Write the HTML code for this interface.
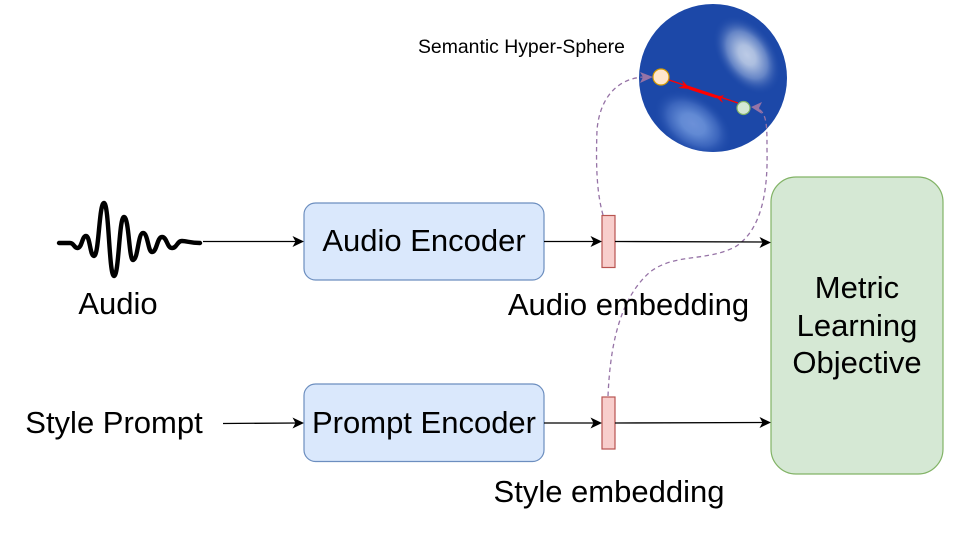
<!DOCTYPE html>
<html>
<head>
<meta charset="utf-8">
<style>
html,body{margin:0;padding:0;background:#fff;width:960px;height:537px;overflow:hidden}
svg{display:block}
text{font-family:"Liberation Sans",sans-serif;fill:#000}
</style>
</head>
<body>
<svg width="960" height="537" viewBox="0 0 960 537" xmlns="http://www.w3.org/2000/svg">
<defs>
<radialGradient id="h1" cx="0.5" cy="0.5" r="0.5">
<stop offset="0" stop-color="#bccbe6"/>
<stop offset="0.25" stop-color="#adbfe0"/>
<stop offset="0.6" stop-color="#6484c6"/>
<stop offset="1" stop-color="#1c48a8" stop-opacity="0"/>
</radialGradient>
<radialGradient id="h2" cx="0.5" cy="0.5" r="0.5">
<stop offset="0" stop-color="#6c90d8"/>
<stop offset="0.3" stop-color="#628ad4"/>
<stop offset="0.65" stop-color="#3a64bc"/>
<stop offset="1" stop-color="#1c48a8" stop-opacity="0"/>
</radialGradient>
<clipPath id="sph"><circle cx="713" cy="78" r="74"/></clipPath>
</defs>

<!-- sphere -->
<circle cx="713" cy="78" r="74" fill="#1c48a8"/>
<g clip-path="url(#sph)">
<ellipse cx="747" cy="55" rx="28" ry="44" transform="rotate(-35 747 55)" fill="url(#h1)"/>
<ellipse cx="693" cy="124" rx="44" ry="28" transform="rotate(35 693 124)" fill="url(#h2)"/>
</g>

<!-- red connector -->
<line x1="669" y1="80" x2="738" y2="103" stroke="#f00" stroke-width="1.300"/>
<line x1="689" y1="88" x2="717" y2="97" stroke="#f00" stroke-width="3"/>
<path d="M682 80 L690.500 89 L678 88 L684 85.500 Z" fill="#f00"/>
<path d="M716 97 L724 95 L721 98.500 L723 103 Z" fill="#f00"/>

<!-- nodes -->
<circle cx="661" cy="77" r="8" fill="#ffe6cc" stroke="#d79b00" stroke-width="1.200"/>
<circle cx="743.500" cy="108" r="6.500" fill="#d5e8d4" stroke="#82b366" stroke-width="1.200"/>

<!-- dashed curves -->
<path d="M603 215 C596 190 596 160 597 130 C600 95 620 78 644 77" fill="none" stroke="#9673a6" stroke-width="1.300" stroke-dasharray="4.500 3.500"/>
<path d="M653 77 L640 72 L643 77 L640 83 Z" fill="#9673a6"/>
<path d="M608 396 C610 350 618 300 650 272 C675 253 705 262 735 247 C762 230 768 190 767 150 C767 125 767 113 757 108" fill="none" stroke="#9673a6" stroke-width="1.300" stroke-dasharray="4.500 3.500"/>
<path d="M751 107 L762 102 L759 108 L762 114 Z" fill="#9673a6"/>

<!-- waveform -->
<path d="M59 243 H70 C74 243 74 248 77.500 248 C82 248 82 236 86 236 C90 236 90 256 94 256 C99 256 99 203 104 203 C109 203 109 276 114 276 C119 276 119 217 124 217 C129 217 129 260 133 260 C138 260 138 233 143 233 C148 233 148 252 152 252 C157 252 157 237 162 237 C167 237 167 248 172 248 C177 248 177 241 182 241 C187 241 190 243 200 243" fill="none" stroke="#000" stroke-width="4.400" stroke-linecap="round" stroke-linejoin="round"/>

<!-- boxes -->
<rect x="304" y="203" width="240" height="77" rx="11.500" fill="#dae8fc" stroke="#6c8ebf" stroke-width="1.200"/>
<rect x="304" y="384" width="240" height="77.500" rx="11.500" fill="#dae8fc" stroke="#6c8ebf" stroke-width="1.200"/>
<rect x="771" y="177" width="172" height="297" rx="25" fill="#d5e8d4" stroke="#82b366" stroke-width="1.200"/>
<rect x="602" y="215.500" width="13" height="52" fill="#f8cecc" stroke="#b85450" stroke-width="1.200"/>
<rect x="602" y="397" width="13" height="52" fill="#f8cecc" stroke="#b85450" stroke-width="1.200"/>

<!-- arrows -->
<g fill="none" stroke="#000" stroke-width="1.300">
<line x1="203" y1="241.500" x2="298" y2="241.500"/>
<line x1="223" y1="423.500" x2="298" y2="423"/>
<line x1="544" y1="241.500" x2="597" y2="241.500"/>
<line x1="544" y1="423" x2="597" y2="423"/>
<line x1="615" y1="241.500" x2="765" y2="242"/>
<line x1="615" y1="423" x2="765" y2="422.500"/>
</g>
<g fill="#000">
<path d="M304 241.500 L292.500 236 L295.500 241.500 L292.500 247 Z"/>
<path d="M304 423 L292.500 417.500 L295.500 423 L292.500 428.500 Z"/>
<path d="M602 241.500 L590.500 236 L593.500 241.500 L590.500 247 Z"/>
<path d="M602 423 L590.500 417.500 L593.500 423 L590.500 428.500 Z"/>
<path d="M771 242.500 L759.500 237 L762.500 242.500 L759.500 248 Z"/>
<path d="M771 422.500 L759.500 417 L762.500 422.500 L759.500 428 Z"/>
</g>

<!-- text -->
<text x="418" y="53" font-size="19.400">Semantic Hyper-Sphere</text>
<text x="424" y="251" font-size="31" text-anchor="middle">Audio Encoder</text>
<text x="424" y="433" font-size="31" text-anchor="middle">Prompt Encoder</text>
<text x="118" y="314" font-size="31" text-anchor="middle">Audio</text>
<text x="114" y="433" font-size="31" text-anchor="middle">Style Prompt</text>
<text x="628.500" y="315" font-size="31" text-anchor="middle">Audio embedding</text>
<text x="609" y="502" font-size="31" text-anchor="middle">Style embedding</text>
<text x="857" y="298" font-size="31" text-anchor="middle">Metric</text>
<text x="857" y="336" font-size="31" text-anchor="middle">Learning</text>
<text x="857" y="373" font-size="31" text-anchor="middle">Objective</text>
</svg>
</body>
</html>
